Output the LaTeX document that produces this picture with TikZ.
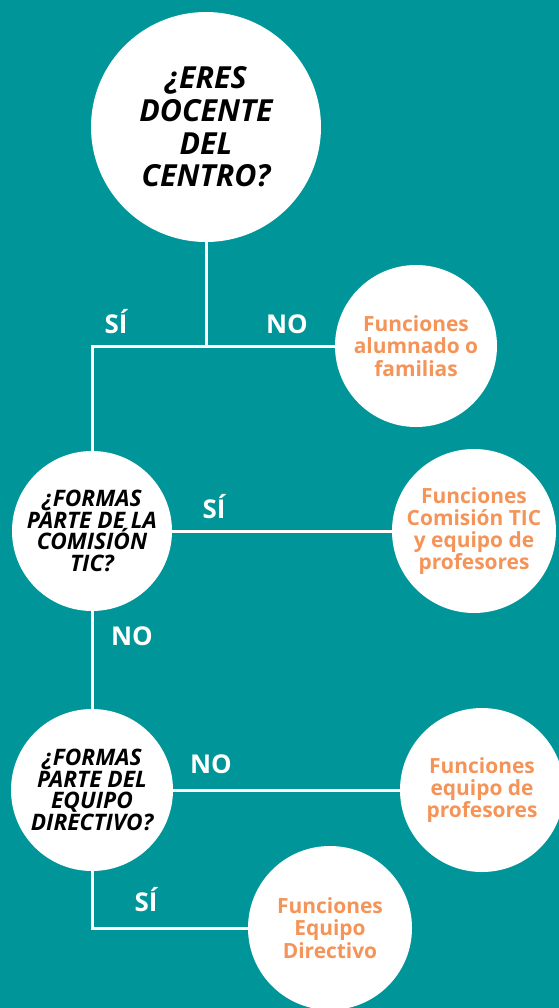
\documentclass[tikz,border=0pt]{standalone}
\usepackage{fontspec}
\setmainfont{Open Sans}
\definecolor{fondo}{RGB}{0,150,153}
\definecolor{naranja}{RGB}{245,148,88}

\begin{document}
\begin{tikzpicture}[x=1bp, y=-1bp,
  pregunta/.style={circle, fill=white, inner sep=0pt, align=center, text=black,
    font=\fontsize{22.8}{21.7}\selectfont\bfseries\itshape},
  funcion/.style={circle, fill=white, inner sep=0pt, align=center, text=naranja,
    font=\fontsize{21}{22.3}\selectfont\bfseries},
  resp/.style={anchor=base, text=white, font=\fontsize{26}{26}\selectfont\bfseries},
  linea/.style={draw=white, line width=3bp}]
\path[use as bounding box, clip] (0,0) rectangle (559,1008);
\fill[fondo] (0,0) rectangle (559,1008);
% nodes
\node[pregunta, minimum size=230bp, font=\fontsize{30.5}{32.7}\selectfont\bfseries\itshape] (eres) at (206,127) {¿ERES\\DOCENTE\\DEL\\CENTRO?};
\node[funcion, minimum size=162bp] (alumnado) at (416,346) {Funciones\\alumnado o\\familias};
\node[pregunta, minimum size=160bp] (comision) at (92,531) {¿FORMAS\\PARTE DE LA\\COMISIÓN\\TIC?};
\node[funcion, minimum size=164bp] (functic) at (474,531) {Funciones\\Comisión TIC\\y equipo de\\profesores};
\node[pregunta, minimum size=162bp] (directivo) at (92,790) {¿FORMAS\\PARTE DEL\\EQUIPO\\DIRECTIVO?};
\node[funcion, minimum size=164bp] (profes) at (482,790) {Funciones\\equipo de\\profesores};
\node[funcion, minimum size=164bp] (equipo) at (330,928) {Funciones\\Equipo\\Directivo};
% connectors
\coordinate (union) at (eres |- alumnado);
\draw[linea] (eres) -- (union);
\draw[linea] (alumnado) -- (comision |- alumnado) -- (comision);
\draw[linea] (comision) -- (functic);
\draw[linea] (comision) -- (directivo);
\draw[linea] (directivo) -- (profes);
\draw[linea] (directivo) -- (directivo |- equipo) -- (equipo);
% answers
\node[resp] (si1) at (116,333) {SÍ};
\node[resp] (no1) at (287,333) {NO};
\node[resp] (si2) at (214,518) {SÍ};
\node[resp] (no2) at (132,645) {NO};
\node[resp] (no3) at (211,773) {NO};
\node[resp] (si3) at (146,911) {SÍ};
\end{tikzpicture}
\end{document}
